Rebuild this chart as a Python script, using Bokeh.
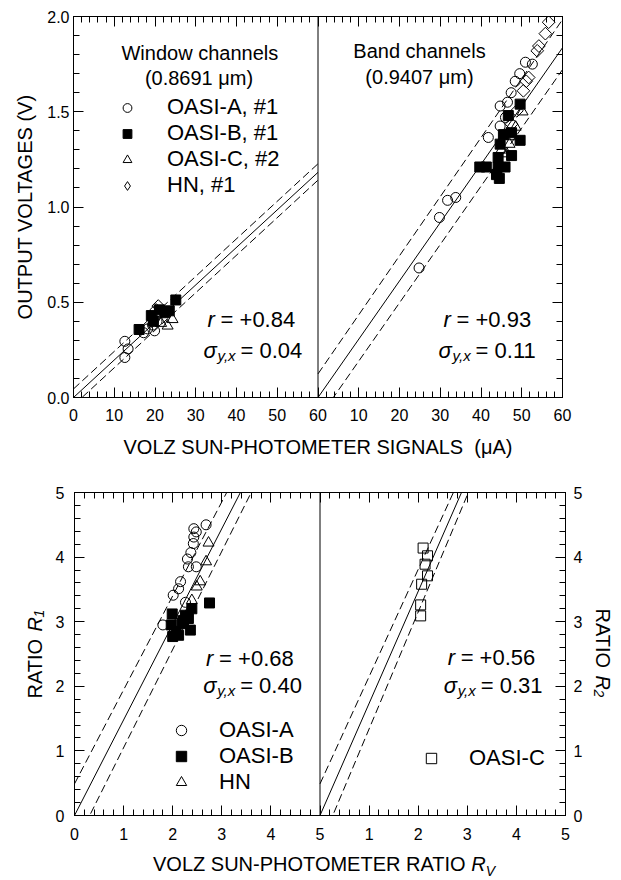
import numpy as np
from bokeh.plotting import figure
from bokeh.layouts import column, row
from bokeh.models import (FixedTicker, LinearAxis, Span, Label, Legend, LegendItem, Range1d, Div)
from bokeh.embed import file_html
from bokeh.resources import INLINE

FONT = "Liberation Sans"

# ---------------- data: top panels (output voltage V vs Volz signal uA) ----------------
# Window channels (0.8691 um)
win_a_x = [12.6, 12.6, 13.4, 17.2, 18.2, 19.4, 19.9, 20.5]
win_a_y = [0.21, 0.295, 0.255, 0.34, 0.36, 0.38, 0.35, 0.40]
win_b_x = [16.1, 19.1, 19.6, 21.1, 22.4, 23.5, 25.1]
win_b_y = [0.357, 0.43, 0.40, 0.46, 0.445, 0.455, 0.512]
win_c_x = [21.5, 23.1, 24.3]
win_c_y = [0.39, 0.376, 0.41]
win_h_x = [20.3, 20.8]
win_h_y = [0.46, 0.48]
# Band channels (0.9407 um)
band_a_x = [24.8, 29.8, 31.8, 33.8, 41.8, 44.7, 44.7, 46.0, 46.5, 47.4, 48.4, 49.5, 50.9, 52.6]
band_a_y = [0.68, 0.945, 1.035, 1.05, 1.365, 1.425, 1.53, 1.47, 1.55, 1.60, 1.66, 1.70, 1.76, 1.75]
band_b_x = [39.7, 41.3, 43.8, 44.2, 44.2, 45.9, 47.5, 45.5, 47.5, 49.6, 46.7, 49.6, 44.7, 44.5]
band_b_y = [1.21, 1.21, 1.17, 1.26, 1.21, 1.21, 1.27, 1.38, 1.39, 1.35, 1.48, 1.54, 1.33, 1.15]
band_c_x = [45.0, 46.3, 47.0, 47.5, 48.5, 50.2]
band_c_y = [1.30, 1.28, 1.33, 1.37, 1.42, 1.50]
band_h_x = [47.5, 48.8, 50.4, 51.1, 51.7, 53.8, 54.2, 55.8, 56.6]
band_h_y = [1.435, 1.505, 1.61, 1.66, 1.68, 1.82, 1.845, 1.91, 1.97]

# regression (slope, intercept): fit, upper, lower
win_lines = [(0.0197, 0.0), (0.0197, 0.045), (0.0197, -0.041)]
band_lines = [(0.0306, 0.0), (0.0310, 0.124), (0.0306, -0.115)]

# ---------------- data: bottom panels (ratios vs Volz ratio R_V) ----------------
r1_a_x = [1.80, 2.01, 2.12, 2.16, 2.26, 2.30, 2.32, 2.37, 2.42, 2.43, 2.43, 2.48, 2.48, 2.68]
r1_a_y = [2.95, 3.41, 3.51, 3.62, 3.30, 3.97, 3.85, 4.07, 4.21, 4.31, 4.44, 4.39, 3.85, 4.50]
r1_b_x = [1.99, 1.97, 2.00, 2.07, 2.12, 2.19, 2.22, 2.26, 2.32, 2.36, 2.39, 2.75]
r1_b_y = [3.12, 2.95, 2.77, 2.85, 2.79, 2.97, 3.02, 3.10, 3.05, 2.87, 3.20, 3.29]
r1_h_x = [2.36, 2.39, 2.49, 2.56, 2.68, 2.73]
r1_h_y = [3.20, 3.33, 3.54, 3.62, 3.93, 4.22]
r2_c_x = [2.10, 2.19, 2.14, 2.19, 2.07, 2.05, 2.05]
r2_c_y = [4.14, 4.02, 3.89, 3.71, 3.58, 3.26, 3.09]

r1_lines = [(1.48, 0.0), (1.455, 0.49), (1.52, -0.47)]
r2_lines = [(1.735, 0.0), (1.66, 0.49), (1.81, -0.47)]

r_vals = ["+0.84", "+0.93", "+0.68", "+0.56"]
sig_vals = ["0.04", "0.11", "0.40", "0.31"]

top_xticks = list(range(0, 121, 10))
top_xminor = list(range(0, 121, 2))
top_xlabels = ["0", "10", "20", "30", "40", "50", "60", "10", "20", "30", "40", "50", "60"]
top_yticks = [0.0, 0.5, 1.0, 1.5, 2.0]
top_ylabels = ["0.0", "0.5", "1.0", "1.5", "2.0"]
top_yminor = [round(0.1 * i, 1) for i in range(21)]
bot_xticks = list(range(0, 11))
bot_xminor = [round(0.2 * i, 1) for i in range(51)]
bot_xlabels = ["0", "1", "2", "3", "4", "5", "1", "2", "3", "4", "5"]
bot_yticks = [0, 1, 2, 3, 4, 5]
bot_yminor = [round(0.2 * i, 1) for i in range(26)]


def style_axis(ax, ticks, minor, labels=None, standoff=8, show=True):
    ax.ticker = FixedTicker(ticks=ticks, minor_ticks=minor)
    ax.major_tick_in = 10
    ax.major_tick_out = 0
    ax.minor_tick_in = 6
    ax.minor_tick_out = 0
    for a in ("axis_line_color", "major_tick_line_color", "minor_tick_line_color"):
        setattr(ax, a, "black")
    ax.major_label_text_font = FONT
    ax.major_label_text_font_size = "16px"
    ax.major_label_text_color = "black"
    ax.major_label_standoff = standoff
    if labels is not None:
        ax.major_label_overrides = {t: l for t, l in zip(ticks, labels)}
    if not show:
        ax.major_label_text_font_size = "0px"
        ax.major_label_text_alpha = 0
        ax.major_label_standoff = 0


def add_lines(p, off, xmax, lines):
    x = np.array([0.0, xmax])
    for (m, b), dash in zip(lines, ["solid", "8 4", "8 4"]):
        p.line(x + off, m * x + b, line_color="black", line_width=1, line_dash=dash)


def lab(p, x, y, text, size="22px", style="normal", align="left", xo=0, yo=0, angle=0.0):
    p.add_layout(Label(x=x, y=y, text=text, x_offset=xo, y_offset=yo, angle=angle,
                       text_font=FONT, text_font_size=size, text_font_style=style,
                       text_align=align, text_baseline="alphabetic", text_color="black"))


def stats(p, x, y_r, y_s, xs, rv, sv):
    lab(p, x, y_r, "r", style="italic")
    lab(p, x, y_r, "= " + rv, xo=13)
    lab(p, xs, y_s, "σ", style="italic")
    lab(p, xs, y_s, "y,x", size="15px", style="italic", xo=14, yo=-5)
    lab(p, xs, y_s, "= " + sv, xo=37)


def make_legend(items, loc, gw, gh, standoff, fsize):
    lg = Legend(items=[LegendItem(label=t, renderers=[r]) for t, r in items], location=loc)
    lg.border_line_alpha = 0
    lg.background_fill_alpha = 0
    lg.inactive_fill_alpha = 0
    lg.padding = 0
    lg.margin = 0
    lg.spacing = 0
    lg.glyph_width = gw
    lg.glyph_height = gh
    lg.label_height = gh
    lg.label_standoff = standoff
    lg.label_text_font = FONT
    lg.label_text_font_size = fsize
    lg.label_text_color = "black"
    return lg


def base_fig(w, h, xr, yr, mb):
    p = figure(width=w, height=h, x_range=Range1d(*xr), y_range=Range1d(*yr),
               output_backend="svg", toolbar_location=None, title=None,
               min_border_left=mb[0], min_border_right=mb[1], min_border_top=mb[2],
               min_border_bottom=mb[3])
    p.xgrid.visible = False
    p.ygrid.visible = False
    p.outline_line_color = "black"
    p.background_fill_color = "white"
    p.border_fill_color = "white"
    return p


def strip(w, h, frame_h, mt, mb):
    # blank side strip; its frame is aligned with the bottom panels' frame,
    # data units = pixels measured up from the frame bottom
    p = figure(width=w, height=h, x_range=Range1d(0, w), y_range=Range1d(0, frame_h),
               x_axis_type=None, y_axis_type=None, output_backend="svg",
               toolbar_location=None, title=None, min_border_left=0, min_border_right=0,
               min_border_top=mt, min_border_bottom=mb)
    p.xgrid.visible = False
    p.ygrid.visible = False
    p.outline_line_color = None
    p.background_fill_color = "white"
    p.border_fill_color = "white"
    return p


# ======================= top figure =======================
# frame: x 73..562, y 16..397
top = base_fig(620, 468, (0, 120), (0, 2), (73, 58, 16, 71))

style_axis(top.xaxis[0], top_xticks, top_xminor, top_xlabels, standoff=11)
top.xaxis[0].axis_label = "VOLZ SUN-PHOTOMETER SIGNALS\u00a0 (μA)"
top.xaxis[0].axis_label_text_font = FONT
top.xaxis[0].axis_label_text_font_size = "20px"
top.xaxis[0].axis_label_text_font_style = "normal"
top.xaxis[0].axis_label_text_color = "black"
top.xaxis[0].axis_label_standoff = 12
style_axis(top.yaxis[0], top_yticks, top_yminor, top_ylabels, standoff=4)
top.yaxis[0].axis_label = "OUTPUT VOLTAGES (V)"
top.yaxis[0].axis_label_text_font = FONT
top.yaxis[0].axis_label_text_font_size = "20px"
top.yaxis[0].axis_label_text_font_style = "normal"
top.yaxis[0].axis_label_text_color = "black"
top.yaxis[0].axis_label_standoff = 8
ax_t = LinearAxis()
style_axis(ax_t, top_xticks, top_xminor, show=False)
top.add_layout(ax_t, "above")
ax_r = LinearAxis()
style_axis(ax_r, top_yticks, top_yminor, show=False)
top.add_layout(ax_r, "right")
top.add_layout(Span(location=60, dimension="height", line_color="black", line_width=1))

add_lines(top, 0, 60, win_lines)
add_lines(top, 60, 60, band_lines)

common = dict(line_color="black", line_width=1)
ra = top.scatter(win_a_x, win_a_y, marker="circle", size=10, fill_alpha=0, **common)
rb = top.scatter(win_b_x, win_b_y, marker="square", size=10, fill_color="black", **common)
rc = top.scatter(win_c_x, win_c_y, marker="triangle", size=11, fill_alpha=0, **common)
top.scatter(win_h_x, win_h_y, marker="square", angle=np.pi / 4, size=9, fill_alpha=0, **common)
top.scatter(np.array(band_a_x) + 60, band_a_y, marker="circle", size=10, fill_alpha=0, **common)
top.scatter(np.array(band_b_x) + 60, band_b_y, marker="square", size=10, fill_color="black", **common)
top.scatter(np.array(band_c_x) + 60, band_c_y, marker="triangle", size=11, fill_alpha=0, **common)
top.scatter(np.array(band_h_x) + 60, band_h_y, marker="square", angle=np.pi / 4, size=9, fill_alpha=0, **common)
# hidden legend-only renderer for the HN diamonds
rh = top.scatter(win_h_x, win_h_y, marker="diamond", size=10, fill_alpha=0, visible=False, **common)

top.add_layout(make_legend([("OASI-A, #1", ra), ("OASI-B, #1", rb), ("OASI-C, #2", rc), ("HN, #1", rh)],
                           (43, 199), 22, 25, 29, "22px"))

lab(top, 31.0, 1.811, "Window channels", size="20px", align="center")
lab(top, 30.8, 1.677, "(0.8691 μm)", size="20px", align="center")
lab(top, 84.9, 1.82, "Band channels", size="20px", align="center")
lab(top, 84.9, 1.683, "(0.9407 μm)", size="20px", align="center")
stats(top, 32.9, 0.411, 0.245, 31.9, r_vals[0], sig_vals[0])
stats(top, 90.8, 0.411, 0.245, 89.6, r_vals[1], sig_vals[1])

# ======================= bottom row =======================
# page rows: 468..848 ; frame x 73..565, y 492..815
ROW_H = 380
FR_H = 323
MT, MB = 24, ROW_H - 24 - FR_H
lstrip = strip(52, ROW_H, FR_H, MT, MB)
bot = base_fig(538, ROW_H, (0, 10), (0, 5), (21, 25, MT, MB))
rstrip = strip(30, ROW_H, FR_H, MT, MB)

style_axis(bot.xaxis[0], bot_xticks, bot_xminor, bot_xlabels, standoff=12)
style_axis(bot.yaxis[0], bot_yticks, bot_yminor, standoff=10)
ax_t2 = LinearAxis()
style_axis(ax_t2, bot_xticks, bot_xminor, show=False)
bot.add_layout(ax_t2, "above")
ax_r2 = LinearAxis()
style_axis(ax_r2, bot_yticks, bot_yminor, standoff=8)
bot.add_layout(ax_r2, "right")
bot.add_layout(Span(location=5, dimension="height", line_color="black", line_width=1))

add_lines(bot, 0, 5, r1_lines)
add_lines(bot, 5, 5, r2_lines)

qa = bot.scatter(r1_a_x, r1_a_y, marker="circle", size=10, fill_alpha=0, **common)
qb = bot.scatter(r1_b_x, r1_b_y, marker="square", size=10, fill_color="black", **common)
qh = bot.scatter(r1_h_x, r1_h_y, marker="triangle", size=11, fill_alpha=0, **common)
qc = bot.scatter(np.array(r2_c_x) + 5, r2_c_y, marker="square", size=10, fill_alpha=0, **common)

bot.add_layout(make_legend([("OASI-A", qa), ("OASI-B", qb), ("HN", qh)], (94, 20), 26, 26, 25, "22px"))
bot.add_layout(make_legend([("OASI-C", qc)], (344, 44), 26, 26, 25, "22px"))

stats(bot, 2.68, 2.43, 2.01, 2.62, r_vals[2], sig_vals[2])
stats(bot, 7.60, 2.45, 2.01, 7.52, r_vals[3], sig_vals[3])

# left title: RATIO R1 (reads upward), starts 117 px above the frame bottom
lab(lstrip, 34, 117, "RATIO", size="20px", angle=np.pi / 2)
lab(lstrip, 34, 117, "R", size="20px", style="italic", angle=np.pi / 2, yo=67)
lab(lstrip, 34, 117, "1", size="14px", style="italic", angle=np.pi / 2, yo=81, xo=4)
# right title: RATIO R2 (reads downward)
lab(rstrip, 12, 207, "RATIO", size="20px", angle=-np.pi / 2)
lab(rstrip, 12, 207, "R", size="20px", style="italic", angle=-np.pi / 2, yo=-67)
lab(rstrip, 12, 207, "2", size="14px", style="italic", angle=-np.pi / 2, yo=-81, xo=-4)

# bottom title: VOLZ SUN-PHOTOMETER RATIO R_V
btitle = Div(text=('<div style="font-family:\'Liberation Sans\',Arial,sans-serif;font-size:20px;'
                   'line-height:20px;color:black;padding-left:153px;padding-top:6px;white-space:nowrap">'
                   'VOLZ SUN-PHOTOMETER RATIO <i>R</i><sub style="font-size:14px;line-height:0">'
                   '<i>V</i></sub></div>'),
             width=620, height=32, margin=(0, 0, 0, 0))

layout = column(top, row(lstrip, bot, rstrip, spacing=0), btitle, spacing=0)
open("out.html", "w").write(file_html(layout, INLINE))
